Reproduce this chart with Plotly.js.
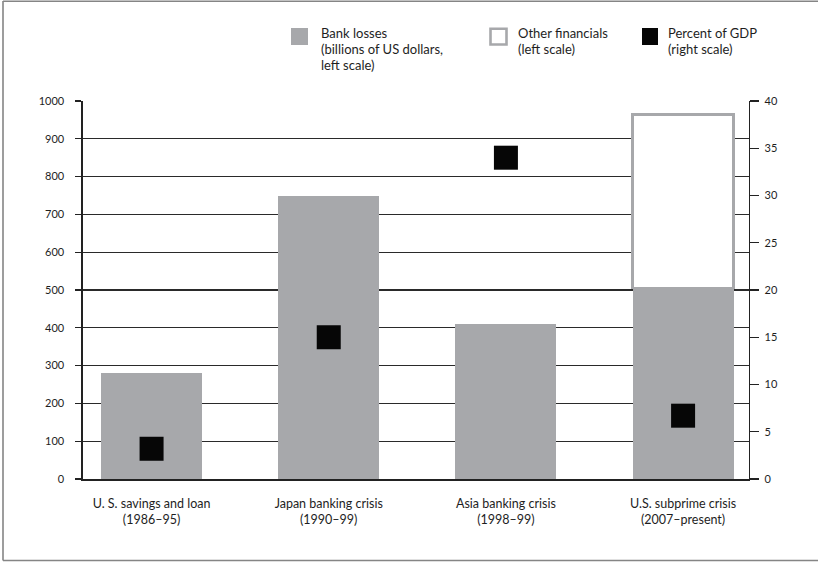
<!DOCTYPE html>
<html>
<head>
<meta charset="utf-8">
<script src="https://cdn.plot.ly/plotly-3.0.1.min.js"></script>
<style>
  html, body { margin: 0; padding: 0; background: #fff; }
  #chart { width: 818px; height: 562px; }
</style>
</head>
<body>
<div id="chart"></div>
<script>
// Crisis episodes along the horizontal axis
const categories = ['U. S. savings and loan', 'Japan banking crisis', 'Asia banking crisis', 'U.S. subprime crisis'];
const periods = ['(1986–95)', '(1990–99)', '(1998–99)', '(2007–present)'];

// Bank losses, billions of US dollars (left scale)
const bankLosses = [280, 750, 410, 505];
// Losses of other financial institutions, billions of US dollars (left scale)
const otherFinancials = [null, null, null, 460];
// Total losses as percent of GDP (right scale)
const percentOfGDP = [3.2, 15, 34, 6.7];

// Axis ticks
const leftTicks = [0, 100, 200, 300, 400, 500, 600, 700, 800, 900, 1000];
const rightTicks = [0, 5, 10, 15, 20, 25, 30, 35, 40];

// Legend entries, one line of text per element
const legendLines = [
  ['Bank losses', '(billions of US dollars,', 'left scale)'],
  ['Other financials', '(left scale)'],
  ['Percent of GDP', '(right scale)']
];

const tickLabels = categories.map((c, i) => c + '<br>' + periods[i]);

const FONT = 'Lato, "Open Sans", sans-serif';
const GRAY = '#a7a8ab';
const INK = '#1e1e1e';
const W = 818, H = 562;
const M = { l: 83, r: 69, t: 101, b: 83 };

// pixel -> paper coordinate helpers for legend placement
const px = x => (x - M.l) / (W - M.l - M.r);
const py = y => (H - M.b - y) / (H - M.t - M.b);

const traces = [
  {
    type: 'bar', name: 'Bank losses',
    x: categories, y: bankLosses,
    width: 0.57,
    marker: { color: GRAY, line: { width: 0 } },
    hoverinfo: 'x+y'
  },
  {
    type: 'bar', name: 'Other financials',
    x: categories, y: otherFinancials,
    width: 0.57,
    marker: { color: '#ffffff', line: { color: GRAY, width: 2.6 } },
    hoverinfo: 'x+y'
  },
  {
    type: 'scatter', mode: 'markers', name: 'Percent of GDP',
    x: categories, y: percentOfGDP, yaxis: 'y2',
    marker: { symbol: 'square', size: 24, color: '#060606', line: { width: 0 } },
    hoverinfo: 'x+y'
  }
];

// legend text columns (left edge, px) and line centres (px)
const legendX = [319, 516, 666];
const lineY = [33, 49, 65];
const legendAnnotations = [];
legendLines.forEach((lines, i) => {
  lines.forEach((t, j) => {
    legendAnnotations.push({
      xref: 'paper', yref: 'paper', x: px(legendX[i]), y: py(lineY[j]),
      xanchor: 'left', yanchor: 'middle', align: 'left',
      showarrow: false, text: t,
      font: { family: FONT, size: 13, color: INK }
    });
  });
});

const layout = {
  width: W, height: H, autosize: false,
  margin: M,
  paper_bgcolor: '#fff', plot_bgcolor: 'rgba(0,0,0,0)',
  font: { family: FONT, size: 12, color: INK },
  showlegend: false,
  barmode: 'stack',
  xaxis: {
    type: 'category',
    range: [-0.387, 3.372],
    tickvals: categories, ticktext: tickLabels,
    showline: true, linecolor: '#222', linewidth: 1.6,
    ticks: '', showgrid: false, zeroline: false,
    tickfont: { family: FONT, size: 12.5, color: INK },
    ticklabelstandoff: 12
  },
  yaxis: {
    range: [0, 1000], tickvals: leftTicks,
    showline: true, linecolor: '#222', linewidth: 1.6,
    ticks: 'outside', ticklen: 6, tickwidth: 1.2, tickcolor: '#222',
    showgrid: true, gridcolor: '#2a2a2a', gridwidth: 1.3,
    zeroline: false,
    tickfont: { family: FONT, size: 11, color: INK },
    ticklabelstandoff: 9
  },
  yaxis2: {
    overlaying: 'y', side: 'right',
    range: [0, 40], tickvals: rightTicks,
    showline: true, linecolor: '#222', linewidth: 1.4,
    ticks: 'outside', ticklen: 9, tickwidth: 1.2, tickcolor: '#222',
    showgrid: false, zeroline: false,
    tickfont: { family: FONT, size: 11, color: INK },
    ticklabelstandoff: 3
  },
  yaxis3: {
    overlaying: 'y', side: 'right',
    range: [0, 40], tickvals: rightTicks,
    showline: false, showticklabels: false,
    ticks: 'inside', ticklen: 3, tickwidth: 1.2, tickcolor: '#222',
    showgrid: false, zeroline: false
  },
  shapes: [
    // outer frame (left, top and bottom edges)
    { type: 'line', xref: 'paper', yref: 'paper', x0: px(3), x1: px(3), y0: py(1), y1: py(560.5),
      line: { color: '#858585', width: 1.6 } },
    { type: 'line', xref: 'paper', yref: 'paper', x0: px(3), x1: px(830), y0: py(1.3), y1: py(1.3),
      line: { color: '#858585', width: 1.6 } },
    { type: 'line', xref: 'paper', yref: 'paper', x0: px(3), x1: px(830), y0: py(560.5), y1: py(560.5),
      line: { color: '#858585', width: 1.6 } },
    // legend swatches
    { type: 'rect', xref: 'paper', yref: 'paper', x0: px(291), x1: px(308), y0: py(28), y1: py(45),
      fillcolor: GRAY, line: { width: 0 } },
    { type: 'rect', xref: 'paper', yref: 'paper', x0: px(490.5), x1: px(506.5), y0: py(28.7), y1: py(44.5),
      fillcolor: '#fff', line: { color: GRAY, width: 2.6 } },
    { type: 'rect', xref: 'paper', yref: 'paper', x0: px(642), x1: px(658), y0: py(28), y1: py(45),
      fillcolor: '#060606', line: { width: 0 } }
  ],
  annotations: legendAnnotations
};

Plotly.newPlot('chart', traces, layout, { displayModeBar: false, staticPlot: true });
</script>
</body>
</html>
